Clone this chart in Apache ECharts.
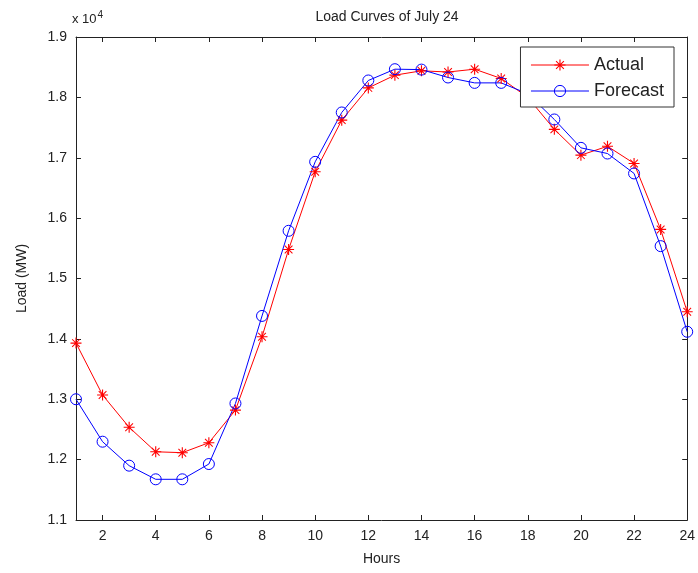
<!DOCTYPE html>
<html>
<head>
<meta charset="UTF-8">
<title>Load Curves of July 24</title>
<style>
  html, body { margin: 0; padding: 0; background: #fff; }
  #main { width: 698px; height: 573px; }
</style>
</head>
<body>
<div id="main"></div>
<script src="https://cdn.jsdelivr.net/npm/echarts@6/dist/echarts.min.js"></script>
<script>
// hours 1..24
var hours = [1,2,3,4,5,6,7,8,9,10,11,12,13,14,15,16,17,18,19,20,21,22,23,24];
// load in MW
var actual = [13930,13070,12535,12130,12115,12280,12820,14035,15480,16767,17623,18157,
              18368,18440,18420,18467,18313,18000,17470,17043,17190,16906,15813,14449];
var forecast = [13000,12297,11900,11674,11674,11927,12930,14380,15790,16932,17750,18280,
                18467,18460,18329,18240,18240,18060,17634,17164,17070,16740,15536,14118];
var xTicks = [2,4,6,8,10,12,14,16,18,20,22,24];

var star = 'path://M0,5.4 H12 V6.6 H0 Z M5.4,0 H6.6 V12 H5.4 Z ' +
           'M1.4,2.2 L2.2,1.4 L10.6,9.8 L9.8,10.6 Z M9.8,1.4 L10.6,2.2 L2.2,10.6 L1.4,9.8 Z';

function pairs(ys) {
  return hours.map(function (h, i) { return [h, ys[i]]; });
}

var font = 'Liberation Sans, Arial, sans-serif';
var black = '#222';

var myChart = echarts.init(document.getElementById('main'));
myChart.setOption({
  animation: false,
  backgroundColor: '#fff',
  textStyle: { fontFamily: font },
  title: {
    text: 'Load Curves of July 24',
    left: 382,
    top: 5,
    textAlign: 'center',
    textStyle: { fontSize: 14, fontWeight: 'normal', color: black, fontFamily: font }
  },
  grid: { left: 76, right: 10, top: 37, bottom: 53, containLabel: false },
  legend: {
    right: 24,
    top: 47,
    orient: 'vertical',
    backgroundColor: '#fff',
    borderColor: '#333',
    borderWidth: 1,
    borderRadius: 0,
    padding: [9, 10, 7, 10],
    itemGap: 8,
    itemWidth: 58,
    itemHeight: 14,
    lineStyle: { width: 1 },
    textStyle: { fontSize: 18, color: black, fontFamily: font },
    data: [
      { name: 'Actual' },
      { name: 'Forecast', itemStyle: { borderWidth: 1 } }
    ]
  },
  graphic: [{
    type: 'text',
    left: 72,
    top: 10,
    style: {
      text: 'x 10{sup|4}',
      fontSize: 13,
      fontFamily: font,
      fill: black,
      rich: { sup: { fontSize: 10, verticalAlign: 'top', padding: [0, 0, 8, 1] } }
    }
  }],
  xAxis: [{
    type: 'value',
    min: 1,
    max: 24,
    name: 'Hours',
    nameLocation: 'middle',
    nameGap: 32,
    nameTextStyle: { fontSize: 14, color: black },
    axisLine: { lineStyle: { color: black, width: 1 } },
    axisTick: { inside: true, length: 5, customValues: xTicks, lineStyle: { color: black } },
    axisLabel: { customValues: xTicks, fontSize: 14, color: black, margin: 9 },
    splitLine: { show: false }
  }, {
    type: 'value',
    position: 'top',
    min: 1,
    max: 24,
    axisLine: { onZero: false, lineStyle: { color: black, width: 1 } },
    axisTick: { inside: true, length: 5, customValues: xTicks, lineStyle: { color: black } },
    axisLabel: { show: false },
    splitLine: { show: false }
  }],
  yAxis: [{
    type: 'value',
    min: 11000,
    max: 19000,
    interval: 1000,
    name: 'Load (MW)',
    nameLocation: 'middle',
    nameGap: 47,
    nameTextStyle: { fontSize: 14, color: black },
    axisLine: { show: true, lineStyle: { color: black, width: 1 } },
    axisTick: { show: true, inside: true, length: 5, lineStyle: { color: black } },
    axisLabel: {
      fontSize: 14, color: black, margin: 9,
      formatter: function (v) { return (v / 10000).toFixed(1); }
    },
    splitLine: { show: false }
  }, {
    type: 'value',
    position: 'right',
    min: 11000,
    max: 19000,
    interval: 1000,
    axisLine: { show: true, onZero: false, lineStyle: { color: black, width: 1 } },
    axisTick: { show: true, inside: true, length: 5, lineStyle: { color: black } },
    axisLabel: { show: false },
    splitLine: { show: false }
  }],
  series: [{
    name: 'Actual',
    type: 'line',
    data: pairs(actual),
    symbol: star,
    symbolSize: 11,
    showAllSymbol: true,
    lineStyle: { color: '#ff0000', width: 1 },
    itemStyle: { color: '#ff0000' }
  }, {
    name: 'Forecast',
    type: 'line',
    data: pairs(forecast),
    symbol: 'circle',
    symbolSize: 11,
    showAllSymbol: true,
    lineStyle: { color: '#0000ff', width: 1 },
    itemStyle: { color: 'rgba(0,0,255,0)', borderColor: '#0000ff', borderWidth: 1 }
  }]
});
</script>
</body>
</html>
